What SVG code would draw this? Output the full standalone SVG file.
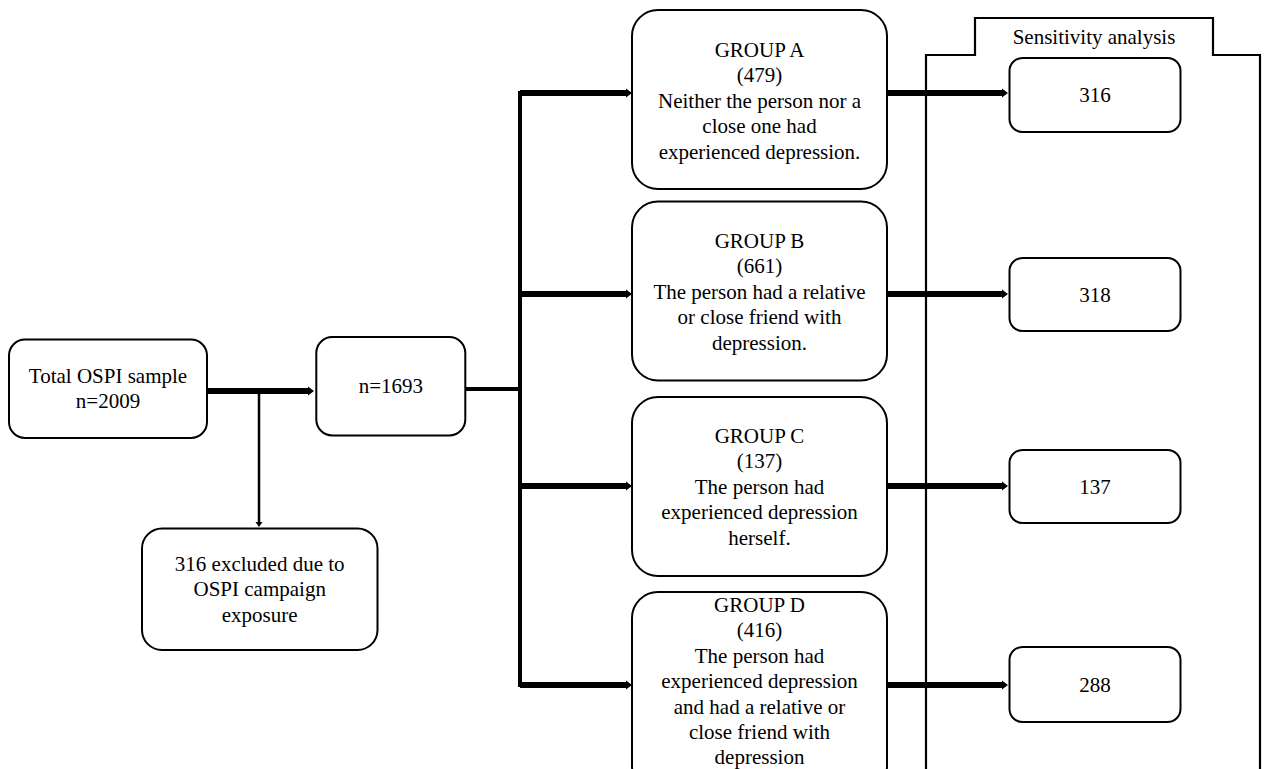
<svg xmlns="http://www.w3.org/2000/svg" width="1264" height="769" viewBox="0 0 1264 769">
<style>
  .box { fill: #ffffff; stroke: #000000; stroke-width: 2; }
  .frame { fill: none; stroke: #000000; stroke-width: 2.2; }
  .t { font-family: "Liberation Serif", "Times New Roman", serif; font-size: 21px; fill: #000000; text-anchor: middle; }
  .thick { stroke: #000000; stroke-width: 6; fill: none; }
  .mid { stroke: #000000; stroke-width: 4; fill: none; }
  .thin { stroke: #000000; stroke-width: 2.5; fill: none; }
</style>
<defs>
  <marker id="ah" markerUnits="userSpaceOnUse" markerWidth="6" markerHeight="10" refX="0" refY="5" orient="auto" viewBox="0 0 6 10">
    <path d="M0,0.5 L6,5 L0,9.5 z" fill="#000000"/>
  </marker>
  <marker id="ahs" markerUnits="userSpaceOnUse" markerWidth="5" markerHeight="8" refX="0" refY="4" orient="auto" viewBox="0 0 5 8">
    <path d="M0,0.5 L5,4 L0,7.5 z" fill="#000000"/>
  </marker>
</defs>

<g id="sensitivity-frame">
  <path class="frame" d="M926,775 V55 H975 V18 H1213 V55 H1260 V775"/>
  <text class="t" x="1094" y="43.5">Sensitivity analysis</text>
</g>

<g id="connectors">
  <line class="thick" x1="208" y1="391" x2="308" y2="391" marker-end="url(#ah)"/>
  <line class="thin" x1="259" y1="391" x2="259" y2="522" marker-end="url(#ahs)"/>
  <line class="mid" x1="465" y1="389" x2="520" y2="389"/>
  <polyline class="mid" points="626,93 520,93 520,685 626,685"/>
  <line class="thick" x1="520" y1="93" x2="626" y2="93" marker-end="url(#ah)"/>
  <line class="thick" x1="520" y1="294" x2="626" y2="294" marker-end="url(#ah)"/>
  <line class="thick" x1="520" y1="486" x2="626" y2="486" marker-end="url(#ah)"/>
  <line class="thick" x1="520" y1="685" x2="626" y2="685" marker-end="url(#ah)"/>
  <line class="thick" x1="887" y1="93" x2="1002" y2="93" marker-end="url(#ah)"/>
  <line class="thick" x1="887" y1="294" x2="1002" y2="294" marker-end="url(#ah)"/>
  <line class="thick" x1="887" y1="486" x2="1002" y2="486" marker-end="url(#ah)"/>
  <line class="thick" x1="887" y1="685" x2="1002" y2="685" marker-end="url(#ah)"/>
</g>

<g id="total">
  <rect class="box" x="9" y="339.5" width="198" height="98.5" rx="16"/>
  <text class="t" x="108" y="383">Total OSPI sample</text>
  <text class="t" x="108" y="408">n=2009</text>
</g>

<g id="excluded">
  <rect class="box" x="142" y="528.5" width="235.5" height="121.5" rx="20"/>
  <text class="t" x="259.7" y="570.5">316 excluded due to</text>
  <text class="t" x="259.7" y="596">OSPI campaign</text>
  <text class="t" x="259.7" y="621.5">exposure</text>
</g>

<g id="n1693">
  <rect class="box" x="316.3" y="337" width="149" height="98.5" rx="16"/>
  <text class="t" x="390.8" y="393">n=1693</text>
</g>

<g id="groupA">
  <rect class="box" x="632" y="10" width="255" height="179" rx="26"/>
  <text class="t" x="759.5" y="57">GROUP A</text>
  <text class="t" x="759.5" y="82.4">(479)</text>
  <text class="t" x="759.5" y="107.8">Neither the person nor a</text>
  <text class="t" x="759.5" y="133.2">close one had</text>
  <text class="t" x="759.5" y="158.6">experienced depression.</text>
</g>

<g id="groupB">
  <rect class="box" x="632" y="201.5" width="255" height="179" rx="26"/>
  <text class="t" x="759.5" y="248">GROUP B</text>
  <text class="t" x="759.5" y="273.4">(661)</text>
  <text class="t" x="759.5" y="298.8">The person had a relative</text>
  <text class="t" x="759.5" y="324.2">or close friend with</text>
  <text class="t" x="759.5" y="349.6">depression.</text>
</g>

<g id="groupC">
  <rect class="box" x="632" y="397" width="255" height="179" rx="26"/>
  <text class="t" x="759.5" y="443">GROUP C</text>
  <text class="t" x="759.5" y="468.4">(137)</text>
  <text class="t" x="759.5" y="493.8">The person had</text>
  <text class="t" x="759.5" y="519.2">experienced depression</text>
  <text class="t" x="759.5" y="544.6">herself.</text>
</g>

<g id="groupD">
  <rect class="box" x="632" y="592" width="255" height="200" rx="26"/>
  <text class="t" x="759.5" y="612">GROUP D</text>
  <text class="t" x="759.5" y="637.4">(416)</text>
  <text class="t" x="759.5" y="662.8">The person had</text>
  <text class="t" x="759.5" y="688.2">experienced depression</text>
  <text class="t" x="759.5" y="713.6">and had a relative or</text>
  <text class="t" x="759.5" y="739">close friend with</text>
  <text class="t" x="759.5" y="764.4">depression</text>
</g>

<g id="sensA">
  <rect class="box" x="1009.5" y="58" width="171" height="74" rx="13"/>
  <text class="t" x="1095" y="102">316</text>
</g>
<g id="sensB">
  <rect class="box" x="1009.5" y="258" width="171" height="73" rx="13"/>
  <text class="t" x="1095" y="302">318</text>
</g>
<g id="sensC">
  <rect class="box" x="1009.5" y="450" width="171" height="73" rx="13"/>
  <text class="t" x="1095" y="494">137</text>
</g>
<g id="sensD">
  <rect class="box" x="1009.5" y="647" width="171" height="75" rx="13"/>
  <text class="t" x="1095" y="692">288</text>
</g>
</svg>
